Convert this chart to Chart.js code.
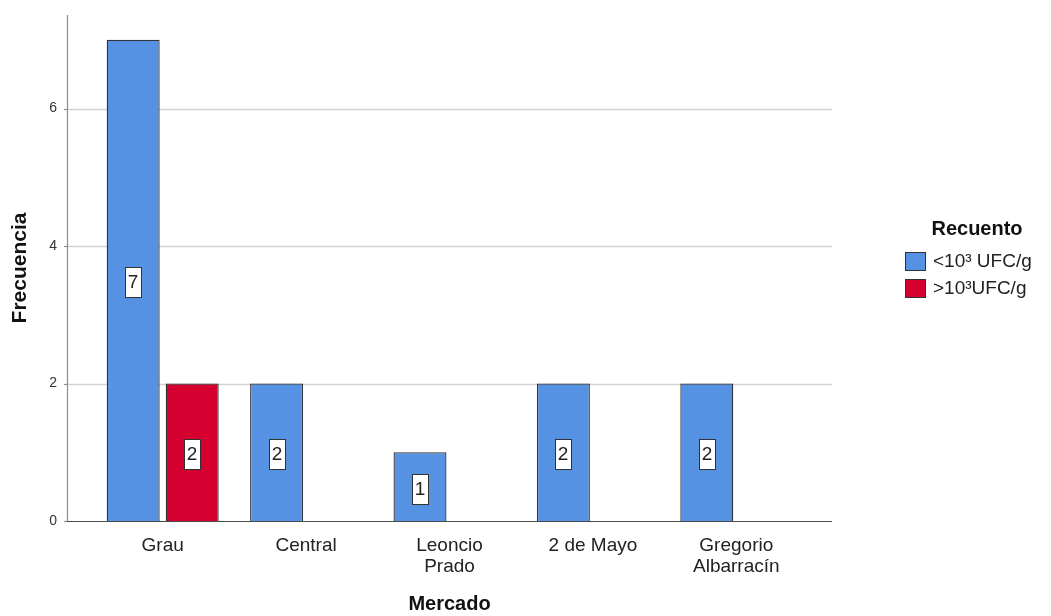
<!DOCTYPE html>
<html>
<head>
<meta charset="utf-8">
<script src="https://cdn.jsdelivr.net/npm/chart.js@4/dist/chart.umd.min.js"></script>
<style>
    html, body { margin: 0; padding: 0; background: #fff; }
    #wrap { width: 1051px; height: 616px; }
</style>
</head>
<body>
<div id="wrap"><canvas id="chart" width="1051" height="616"></canvas></div>
<script>
// Data
const mercados = ['Grau', 'Central', ['Leoncio', 'Prado'], '2 de Mayo', ['Gregorio', 'Albarracín']];
const seriesNames = ['<10³ UFC/g', '>10³UFC/g'];
const bajo = [7, 2, 1, 2, 2];
const alto = [2, null, null, null, null];
const yTicks = [0, 2, 4, 6];
const yMax = 7.36;

const FONT = "'Liberation Sans', Arial, sans-serif";
const BLUE = '#5592e3';
const RED = '#d5002f';
const PLOT_TOP = 15;

// pin the plot top (layout kept leaving a gap above)
const pinTop = {
    id: 'pinTop',
    afterLayout(chart) {
        const a = chart.chartArea, y = chart.scales.y;
        a.top = PLOT_TOP;
        a.height = a.bottom - PLOT_TOP;
        y.top = PLOT_TOP;
        y.height = y.bottom - PLOT_TOP;
        y.configure();
    }
};

// grid lines and axis lines run a bit past the category band, like SPSS
const gridPlugin = {
    id: 'spssGrid',
    beforeDatasetsDraw(chart) {
        const { ctx, chartArea: a, scales: { y } } = chart;
        const x0 = a.left - 24, x1 = a.right + 24;
        ctx.save();
        ctx.strokeStyle = '#d2d2d2';
        ctx.lineWidth = 1.5;
        yTicks.filter(v => v > 0).forEach(v => {
            const py = Math.round(y.getPixelForValue(v)) + 0.5;
            ctx.beginPath(); ctx.moveTo(x0, py); ctx.lineTo(x1, py); ctx.stroke();
        });
        // left axis
        ctx.strokeStyle = '#8e8e8e';
        ctx.lineWidth = 1.2;
        ctx.beginPath(); ctx.moveTo(x0 + 0.5, a.top); ctx.lineTo(x0 + 0.5, a.bottom); ctx.stroke();
        yTicks.forEach(v => {
            const py = Math.round(y.getPixelForValue(v)) + 0.5;
            ctx.beginPath(); ctx.moveTo(x0 - 3, py); ctx.lineTo(x0, py); ctx.stroke();
        });
        ctx.restore();
    },
    afterDatasetsDraw(chart) {
        const { ctx, chartArea: a } = chart;
        ctx.save();
        ctx.strokeStyle = '#4a4a4a';
        ctx.lineWidth = 1.2;
        const py = Math.round(a.bottom) + 0.5;
        ctx.beginPath(); ctx.moveTo(a.left - 24, py); ctx.lineTo(a.right + 24, py); ctx.stroke();
        ctx.restore();
    }
};

// boxed value labels in the middle of each bar
const valueLabels = {
    id: 'valueLabels',
    afterDatasetsDraw(chart) {
        const { ctx } = chart;
        ctx.save();
        chart.data.datasets.forEach((ds, i) => {
            chart.getDatasetMeta(i).data.forEach((el, j) => {
                const v = ds.data[j];
                if (v === null || v === undefined) return;
                const cx = Math.round(el.x);
                const cy = Math.round((el.y + el.base) / 2) + 2;
                ctx.fillStyle = '#fff';
                ctx.fillRect(cx - 8, cy - 15, 16, 30);
                ctx.strokeStyle = '#333';
                ctx.lineWidth = 1;
                ctx.strokeRect(cx - 8 + 0.5, cy - 15 + 0.5, 16, 30);
                ctx.fillStyle = '#222';
                ctx.font = '19px ' + FONT;
                ctx.textAlign = 'center';
                ctx.textBaseline = 'middle';
                ctx.fillText(String(v), cx, cy + 1);
            });
        });
        ctx.restore();
    }
};

// legend block on the right
const sideLegend = {
    id: 'sideLegend',
    afterDraw(chart) {
        const { ctx } = chart;
        ctx.save();
        ctx.fillStyle = '#111';
        ctx.font = 'bold 20px ' + FONT;
        ctx.textAlign = 'center';
        ctx.textBaseline = 'middle';
        ctx.fillText('Recuento', 977, 229);
        const colors = [BLUE, RED];
        seriesNames.forEach((name, i) => {
            const by = 252 + i * 27;
            ctx.fillStyle = colors[i];
            ctx.fillRect(905, by, 20, 18);
            ctx.strokeStyle = '#333';
            ctx.lineWidth = 1;
            ctx.strokeRect(905.5, by + 0.5, 20, 18);
            ctx.fillStyle = '#222';
            ctx.font = '19px ' + FONT;
            ctx.textAlign = 'left';
            ctx.fillText(name, 933, by + 10);
        });
        ctx.restore();
    }
};

new Chart(document.getElementById('chart'), {
    type: 'bar',
    data: {
        labels: mercados,
        datasets: [
            { label: seriesNames[0], data: bajo, backgroundColor: BLUE, borderColor: '#333', borderWidth: 1.3 },
            { label: seriesNames[1], data: alto, backgroundColor: RED, borderColor: '#333', borderWidth: 1.3 }
        ]
    },
    options: {
        responsive: false,
        animation: false,
        categoryPercentage: 0.823,
        barPercentage: 0.898,
        layout: { autoPadding: false, padding: { left: 8, right: 243, top: 15, bottom: 0 } },
        plugins: {
            legend: { display: false },
            tooltip: { enabled: false }
        },
        scales: {
            x: {
                grid: { display: false, drawTicks: false },
                border: { display: false },
                afterFit: s => { s.height = 95; },
                ticks: {
                    color: '#222',
                    padding: 14,
                    maxRotation: 0,
                    autoSkip: false,
                    font: { family: FONT, size: 19, lineHeight: 1.1 }
                },
                title: {
                    display: true,
                    text: 'Mercado',
                    color: '#111',
                    padding: { top: 15, bottom: 0 },
                    font: { family: FONT, size: 20, weight: 'bold' }
                }
            },
            y: {
                min: 0,
                max: yMax,
                afterBuildTicks: s => { s.ticks = yTicks.map(v => ({ value: v })); },
                afterFit: s => { s.width = 83; },
                grid: { display: false, drawTicks: false },
                border: { display: false },
                ticks: {
                    color: '#333',
                    padding: 34,
                    font: { family: FONT, size: 14 }
                },
                title: {
                    display: true,
                    text: 'Frecuencia',
                    color: '#111',
                    padding: { top: 0, bottom: 17 },
                    font: { family: FONT, size: 21, weight: 'bold' }
                }
            }
        }
    },
    plugins: [pinTop, gridPlugin, valueLabels, sideLegend]
});
</script>
</body>
</html>
